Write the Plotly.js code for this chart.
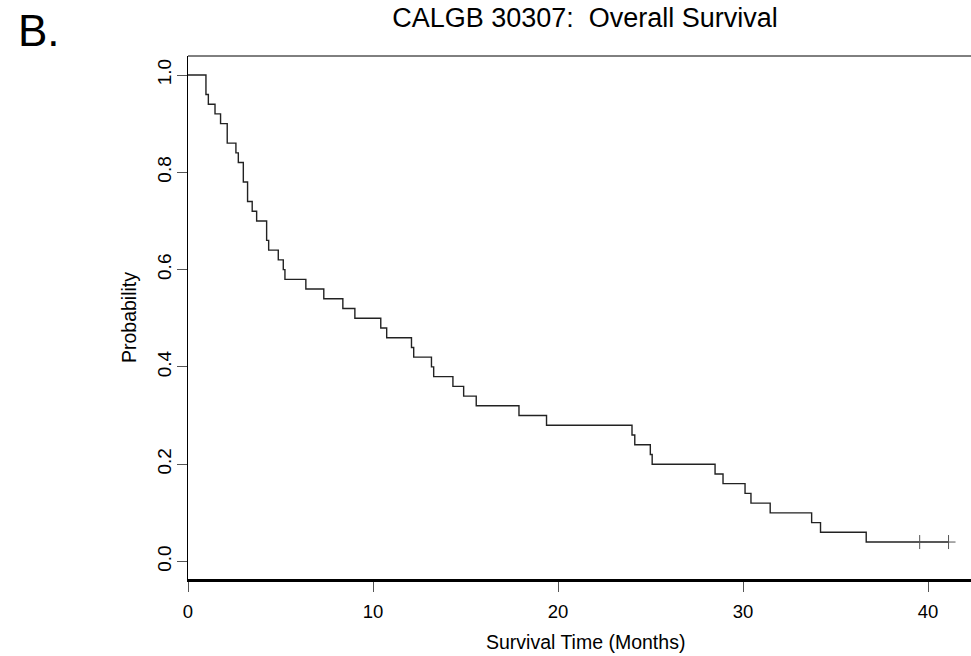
<!DOCTYPE html>
<html>
<head>
<meta charset="utf-8">
<script src="https://cdn.plot.ly/plotly-3.0.1.min.js"></script>
<style>
  html, body { margin: 0; padding: 0; background: #fff; }
  #chart { width: 971px; height: 656px; }
</style>
</head>
<body>
<div id="chart"></div>
<script>
// Kaplan-Meier step curve: time (months) of each step and survival probability after it
const stepTimes = [0, 0.97, 1.10, 1.46, 1.76, 2.12, 2.59, 2.72, 2.99, 3.22, 3.47, 3.71,
  4.25, 4.36, 4.88, 5.15, 5.24, 6.37, 7.34, 8.37, 9.02, 10.42, 10.74, 12.08, 12.20,
  13.16, 13.28, 14.32, 14.90, 15.58, 17.89, 19.38, 24.00, 24.15, 24.99, 25.09, 28.49,
  28.92, 30.11, 30.43, 31.47, 33.71, 34.19, 36.66, 41.11];
const survival = [1.00, 0.96, 0.94, 0.92, 0.90, 0.86, 0.84, 0.82, 0.78, 0.74, 0.72, 0.70,
  0.66, 0.64, 0.62, 0.60, 0.58, 0.56, 0.54, 0.52, 0.50, 0.48, 0.46, 0.44, 0.42,
  0.40, 0.38, 0.36, 0.34, 0.32, 0.30, 0.28, 0.26, 0.24, 0.22, 0.20, 0.18,
  0.16, 0.14, 0.12, 0.10, 0.08, 0.06, 0.04, 0.04];
const censorTimes = [39.55, 41.11];
const censorSurvival = [0.04, 0.04];
const xTicks = [0, 10, 20, 30, 40];
const xTickLabels = ['0', '10', '20', '30', '40'];
const yTicks = [0, 0.2, 0.4, 0.6, 0.8, 1.0];
const yTickLabels = ['0.0', '0.2', '0.4', '0.6', '0.8', '1.0'];
const mainTitle = 'CALGB 30307:  Overall Survival';
const panelLabel = 'B.';
const xTitle = 'Survival Time (Months)';
const yTitle = 'Probability';

const FONT = 'Liberation Sans, Arial, sans-serif';
const W = 971, H = 656;
const L = 188, T = 56, B = 77, R = 0;
const plotW = W - L - R, plotH = H - T - B;
const px2x = px => (px - L) / plotW;
const py2y = py => (H - B - py) / plotH;

const traces = [
  {
    x: stepTimes, y: survival, type: 'scatter', mode: 'lines',
    line: { shape: 'hv', color: '#222', width: 1.4 },
    hoverinfo: 'x+y', showlegend: false
  },
  {
    x: censorTimes, y: censorSurvival, type: 'scatter', mode: 'markers',
    marker: { symbol: 'cross-thin', size: 10, line: { color: '#555', width: 1 } },
    showlegend: false
  }
];

const layout = {
  width: W, height: H,
  margin: { l: L, r: R, t: T, b: B, pad: 0 },
  paper_bgcolor: '#fff', plot_bgcolor: '#fff',
  font: { family: FONT, color: '#000' },
  title: {
    text: mainTitle, font: { family: FONT, size: 27, color: '#000' },
    xref: 'container', yref: 'container',
    x: 585 / W, xanchor: 'center', y: 1 - 18 / H, yanchor: 'middle'
  },
  xaxis: {
    range: [0, plotW / 18.5], tickvals: xTicks, ticktext: xTickLabels,
    ticks: 'outside', ticklen: 10, tickwidth: 1, tickcolor: '#555',
    showline: true, linecolor: '#000', linewidth: 2.5, mirror: false,
    showgrid: false, zeroline: false, ticklabelstandoff: 4,
    tickfont: { family: FONT, size: 18.5, color: '#000' }
  },
  yaxis: {
    range: [-(579 - 561.5) / 486.5, 1 + (75 - 56) / 486.5],
    tickvals: yTicks, ticktext: yTickLabels,
    ticks: 'outside', ticklen: 10, tickwidth: 1, tickcolor: '#555',
    tickangle: -90, ticklabelstandoff: -2,
    showline: true, linecolor: '#000', linewidth: 1.5, mirror: false,
    showgrid: false, zeroline: false,
    tickfont: { family: FONT, size: 19, color: '#000' },
    title: { text: yTitle, font: { family: FONT, size: 19.5, color: '#000' }, standoff: 12 }
  },
  shapes: [
    { type: 'line', xref: 'paper', yref: 'paper', x0: 0, x1: 1, y0: 1, y1: 1,
      line: { color: '#000', width: 1 } }
  ],
  annotations: [
    { text: panelLabel, xref: 'paper', yref: 'paper', x: px2x(16), y: py2y(31),
      xanchor: 'left', yanchor: 'middle', showarrow: false,
      font: { family: FONT, size: 44, color: '#000' } },
    { text: xTitle, xref: 'paper', yref: 'paper', x: px2x(585), y: py2y(642),
      xanchor: 'center', yanchor: 'middle', showarrow: false,
      font: { family: FONT, size: 19.5, color: '#000' } }
  ]
};

Plotly.newPlot('chart', traces, layout, { displayModeBar: false, staticPlot: true });
</script>
</body>
</html>
